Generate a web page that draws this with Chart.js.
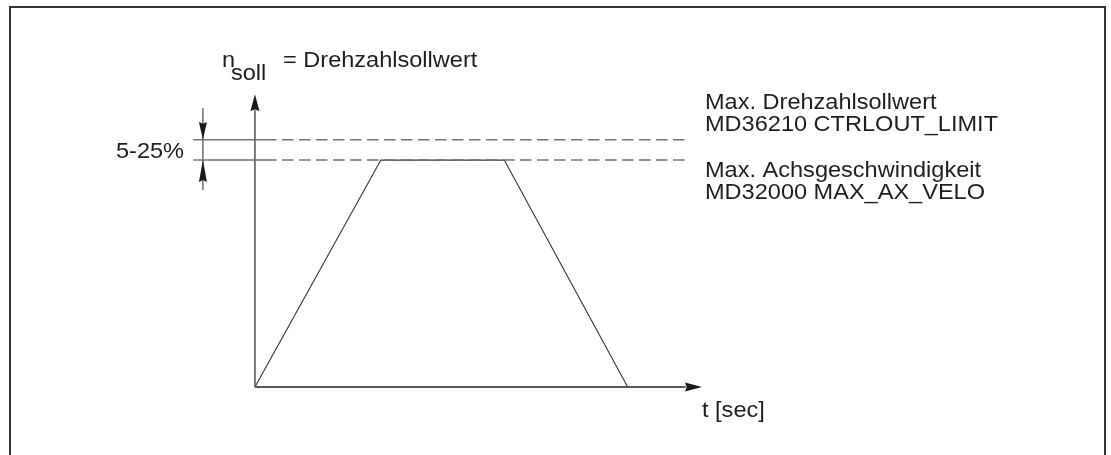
<!DOCTYPE html>
<html>
<head>
<meta charset="utf-8">
<script src="https://cdn.jsdelivr.net/npm/chart.js@4.4.1/dist/chart.umd.min.js"></script>
<style>
  html, body { margin: 0; padding: 0; background: #ffffff; }
  canvas { display: block; }
</style>
</head>
<body>
<canvas id="c" width="1111" height="455"></canvas>
<script>
// ---- data (time in arbitrary units, speed normalised to max. axis velocity) ----
const profileT = [0, 1, 1.98, 2.96];          // speed set-point profile, time
const profileN = [0, 1, 1, 0];                // speed set-point profile, value
const maxAxVelo = 1.0;                        // MD32000 MAX_AX_VELO
const ctrloutLimit = 1.09;                    // MD36210 CTRLOUT_LIMIT
const axisXRange = [0, 3.42];                 // time axis line
const axisYRange = [0, 1.22];                 // speed axis line
const axisXTip = 3.55, axisXBase = 3.415;     // time axis arrow
const axisYTip = 1.29, axisYBase = 1.216;     // speed axis arrow
const limitDashT = [0.08, 3.45];              // dashed limit lines
const limitSolidT = [-0.49, 0.08];            // solid leader of limit lines
const bracketT = -0.413;                      // 5-25% dimension line position
const bracketN = [0.868, 1.23];               // 5-25% dimension line extent
const bracketArrowTop = [1.168, 1.09];        // base, tip
const bracketArrowBottom = [0.903, 1.0];      // base, tip

const titleMain = "n";
const titleSub = "soll";
const titleRest = "= Drehzahlsollwert";
const bracketLabel = "5-25%";
const limitLabels = ["Max. Drehzahlsollwert", "MD36210 CTRLOUT_LIMIT"];
const veloLabels = ["Max. Achsgeschwindigkeit", "MD32000 MAX_AX_VELO"];
const timeLabel = "t [sec]";

const pts = (xs, ys) => xs.map((x, i) => ({x: x, y: ys[i]}));

const gray = '#737373';
const axisGray = '#5a5a5a';
const ink = '#1e1e1e';

const overlay = {
  id: 'overlay',
  afterDatasetsDraw(chart) {
    const ctx = chart.ctx;
    const xs = chart.scales.x, ys = chart.scales.y;
    const X = v => xs.getPixelForValue(v), Y = v => ys.getPixelForValue(v);
    ctx.save();
    // frame (open at bottom)
    ctx.strokeStyle = '#333333';
    ctx.lineWidth = 2;
    ctx.beginPath();
    ctx.moveTo(10, 460); ctx.lineTo(10, 7); ctx.lineTo(1105, 7); ctx.lineTo(1105, 460);
    ctx.stroke();

    // arrowheads
    function arrow(x0, y0, x1, y1, half) {
      const dx = x1 - x0, dy = y1 - y0, L = Math.hypot(dx, dy);
      const nx = -dy / L, ny = dx / L;
      ctx.beginPath();
      ctx.moveTo(x1, y1);
      ctx.lineTo(x0 + nx * half, y0 + ny * half);
      ctx.lineTo(x0 + dx * 0.1, y0 + dy * 0.1);
      ctx.lineTo(x0 - nx * half, y0 - ny * half);
      ctx.closePath();
      ctx.fill();
    }
    ctx.fillStyle = '#1a1a1a';
    arrow(X(axisXBase), Y(0), X(axisXTip), Y(0), 4.5);
    arrow(X(0), Y(axisYBase), X(0), Y(axisYTip), 4.5);
    arrow(X(bracketT), Y(bracketArrowTop[0]), X(bracketT), Y(bracketArrowTop[1]), 4);
    arrow(X(bracketT), Y(bracketArrowBottom[0]), X(bracketT), Y(bracketArrowBottom[1]), 4);

    // texts (horizontally widened like the reference)
    const sx = 1.07;
    ctx.fillStyle = ink;
    ctx.font = '22px "Liberation Sans", Arial, sans-serif';
    ctx.textBaseline = 'alphabetic';
    function txt(s, x, y, align) {
      ctx.save();
      ctx.translate(x, y);
      ctx.scale(sx, 1);
      ctx.textAlign = align || 'left';
      ctx.fillText(s, 0, 0);
      ctx.restore();
    }
    txt(titleMain, 222, 67);
    txt(titleSub, 231, 80);
    txt(titleRest, 283, 67);
    txt(bracketLabel, 184, 158, 'right');
    txt(limitLabels[0], 705, 109);
    txt(limitLabels[1], 705, 131);
    txt(veloLabels[0], 705, 177);
    txt(veloLabels[1], 705, 199);
    txt(timeLabel, 702, 417);
    ctx.restore();
  }
};

new Chart(document.getElementById('c'), {
  type: 'line',
  data: {
    datasets: [
      { data: pts(limitDashT, [ctrloutLimit, ctrloutLimit]), borderColor: gray, borderWidth: 1.5, borderDash: [11.5, 5.5] },
      { data: pts(limitDashT, [maxAxVelo, maxAxVelo]), borderColor: gray, borderWidth: 1.5, borderDash: [11.5, 5.5] },
      { data: pts(limitSolidT, [ctrloutLimit, ctrloutLimit]), borderColor: gray, borderWidth: 1.5 },
      { data: pts(limitSolidT, [maxAxVelo, maxAxVelo]), borderColor: gray, borderWidth: 1.5 },
      { data: pts([bracketT, bracketT], bracketN), borderColor: '#4a4a4a', borderWidth: 1.2 },
      { data: pts(axisXRange, [0, 0]), borderColor: axisGray, borderWidth: 2 },
      { data: pts([0, 0], axisYRange), borderColor: axisGray, borderWidth: 1.6 },
      { data: pts(profileT, profileN), borderColor: '#333333', borderWidth: 1.1 }
    ]
  },
  options: {
    responsive: false,
    animation: false,
    devicePixelRatio: 1,
    layout: { padding: { left: 129, right: 409, top: 92, bottom: 68 } },
    elements: { point: { radius: 0, hoverRadius: 0 }, line: { tension: 0, fill: false } },
    datasets: { line: { clip: false, showLine: true } },
    plugins: { legend: { display: false }, tooltip: { enabled: false }, title: { display: false } },
    scales: {
      x: { type: 'linear', min: -1, max: 3.55, display: false },
      y: { type: 'linear', min: 0, max: 1.3, display: false }
    }
  },
  plugins: [overlay]
});
</script>
</body>
</html>
